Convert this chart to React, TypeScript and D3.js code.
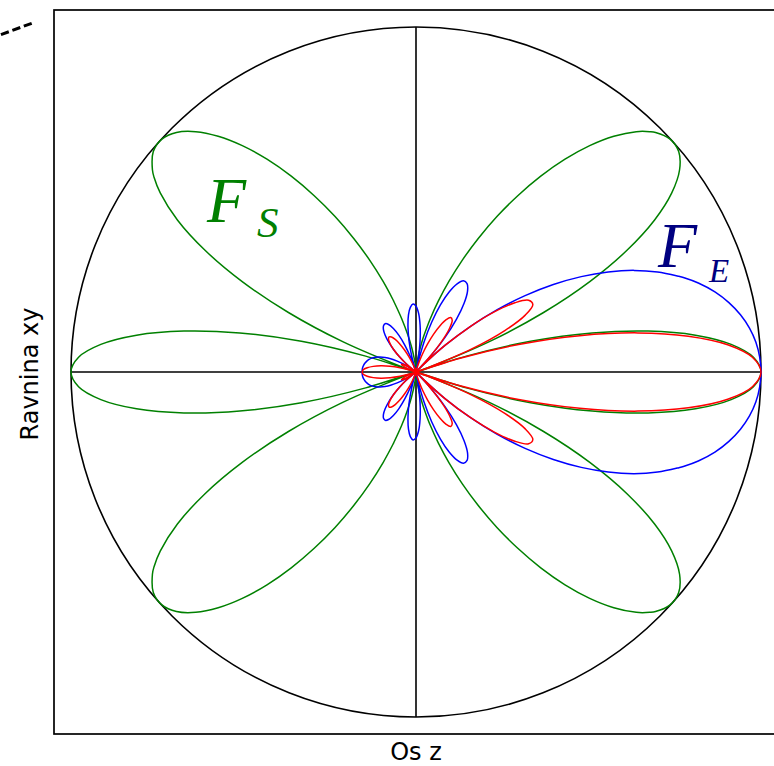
import React from 'react';
import * as d3 from 'd3';

// Polar angle from the z axis (degrees, upper half; the lower half mirrors it)
const angles = [
  0, 2.5, 5, 7.5, 10, 12.5, 15, 17.5, 19.47, 20, 22.5, 25, 27.5, 30, 32.5, 35, 37.5, 40, 42.5, 45,
  45.79, 47.5, 50, 52.5, 55, 57.5, 60, 62.5, 65, 67.5, 70, 72.5, 75, 77.5, 78.62, 80, 82.5, 85, 87.5, 90,
  92.5, 95, 97.5, 100, 102.5, 105, 107.5, 107.62, 110, 112.5, 115, 117.5, 120, 122.5, 125, 127.5, 130, 132.5, 135, 137.5,
  140, 142.5, 143.38, 145, 147.5, 150, 152.5, 155, 157.5, 160, 160.53, 162.5, 165, 167.5, 170, 172.5, 175, 177.5, 180,
];

// F_S (green): array factor
const fsValues = [
  1.0, 0.979, 0.917, 0.817, 0.683, 0.523, 0.344, 0.153, 0.0, 0.041, 0.23, 0.408, 0.569, 0.707, 0.82, 0.905, 0.963, 0.994, 0.999, 0.982,
  0.972, 0.945, 0.892, 0.827, 0.753, 0.673, 0.59, 0.508, 0.427, 0.351, 0.28, 0.216, 0.16, 0.111, 0.093, 0.072, 0.04, 0.018, 0.004, 0.0,
  0.004, 0.018, 0.04, 0.072, 0.111, 0.16, 0.216, 0.219, 0.28, 0.351, 0.427, 0.508, 0.59, 0.673, 0.753, 0.827, 0.892, 0.945, 0.982, 0.999,
  0.994, 0.963, 0.946, 0.905, 0.82, 0.707, 0.569, 0.408, 0.23, 0.041, 0.0, 0.153, 0.344, 0.523, 0.683, 0.817, 0.917, 0.979, 1.0,
];

// F_E (blue): element factor
const feValues = [
  1.0, 0.997, 0.989, 0.975, 0.955, 0.929, 0.897, 0.858, 0.822, 0.811, 0.758, 0.697, 0.628, 0.553, 0.472, 0.386, 0.297, 0.205, 0.115, 0.027,
  0.0, 0.056, 0.13, 0.193, 0.243, 0.278, 0.296, 0.298, 0.282, 0.251, 0.207, 0.152, 0.091, 0.028, 0.0, 0.034, 0.09, 0.136, 0.171, 0.191,
  0.197, 0.188, 0.167, 0.134, 0.094, 0.049, 0.002, 0.0, 0.043, 0.083, 0.117, 0.142, 0.159, 0.166, 0.164, 0.155, 0.139, 0.117, 0.092, 0.065,
  0.037, 0.01, 0.0, 0.017, 0.041, 0.063, 0.083, 0.099, 0.113, 0.125, 0.127, 0.134, 0.141, 0.146, 0.15, 0.153, 0.155, 0.156, 0.156,
];

// F_S * F_E (red): total pattern
const ftValues = [
  1.0, 0.976, 0.907, 0.796, 0.653, 0.486, 0.308, 0.131, 0.0, 0.033, 0.175, 0.284, 0.357, 0.391, 0.387, 0.35, 0.286, 0.204, 0.115, 0.026,
  0.0, 0.053, 0.116, 0.16, 0.183, 0.187, 0.175, 0.151, 0.121, 0.088, 0.058, 0.033, 0.015, 0.003, 0.0, 0.002, 0.004, 0.002, 0.001, 0.0,
  0.001, 0.003, 0.007, 0.01, 0.01, 0.008, 0.0, 0.0, 0.012, 0.029, 0.05, 0.072, 0.094, 0.112, 0.124, 0.128, 0.124, 0.111, 0.091, 0.065,
  0.037, 0.009, 0.0, 0.015, 0.034, 0.045, 0.047, 0.041, 0.026, 0.005, 0.0, 0.02, 0.048, 0.077, 0.103, 0.125, 0.142, 0.153, 0.156,
];

const W = 774, H = 766;
const cx = 416, cy = 372, R = 345;
const frame = { x: 54, y: 10, size: 724 };

const rScale = d3.scaleLinear().domain([0, 1]).range([0, R]);
const toRad = (deg: number) => (deg * Math.PI) / 180;

type P = { a: number; r: number };
function fullPattern(vals: number[]): P[] {
  const upper: P[] = angles.map((a, i) => ({ a, r: vals[i] }));
  const lower: P[] = angles
    .slice(1, -1)
    .map((a, i) => ({ a: 360 - a, r: vals[i + 1] }))
    .reverse();
  return [...upper, ...lower];
}

const radial = d3
  .lineRadial<P>()
  .angle((d) => Math.PI / 2 - toRad(d.a))
  .radius((d) => rScale(d.r))
  .curve(d3.curveCatmullRomClosed.alpha(0.5));

const series = [
  { vals: fsValues, color: '#008000' },
  { vals: feValues, color: '#0000ff' },
  { vals: ftValues, color: '#ff0000' },
];

export default function App() {
  return (
    <svg width={W} height={H} style={{ position: 'absolute', left: 0, top: 0, background: '#fff' }}>
      <line x1={31.7} y1={23.3} x2={-20} y2={42.4} stroke="#000" strokeWidth={3} strokeDasharray="8.4 3.8" />
      <rect x={frame.x} y={frame.y} width={frame.size} height={frame.size} fill="none" stroke="#000" strokeWidth={1.7} />
      <g transform={`translate(${cx},${cy})`}>
        <circle r={rScale(1)} fill="none" stroke="#000" strokeWidth={1.6} />
        <line x1={-rScale(1)} x2={rScale(1)} y1={0} y2={0} stroke="#000" strokeWidth={1.6} />
        <line y1={-rScale(1)} y2={rScale(1)} x1={0} x2={0} stroke="#000" strokeWidth={1.6} />
        {series.map((s, i) => (
          <path key={i} d={radial(fullPattern(s.vals)) || ''} fill="none" stroke={s.color} strokeWidth={1.5} />
        ))}
      </g>
      <text fontFamily="Liberation Serif" fontStyle="italic" fill="#008000">
        <tspan x={207} y={222} fontSize={64}>F</tspan>
        <tspan x={257} y={237} fontSize={43}>S</tspan>
      </text>
      <text fontFamily="Liberation Serif" fontStyle="italic" fill="#000080">
        <tspan x={658} y={267} fontSize={64}>F</tspan>
        <tspan x={709} y={282} fontSize={33}>E</tspan>
      </text>
      <text x={416} y={760} textAnchor="middle" fontFamily="DejaVu Sans" fontSize={24} fill="#000">Os z</text>
      <text transform="translate(38,374) rotate(-90)" textAnchor="middle" fontFamily="DejaVu Sans" fontSize={24} fill="#000">Ravnina xy</text>
    </svg>
  );
}
